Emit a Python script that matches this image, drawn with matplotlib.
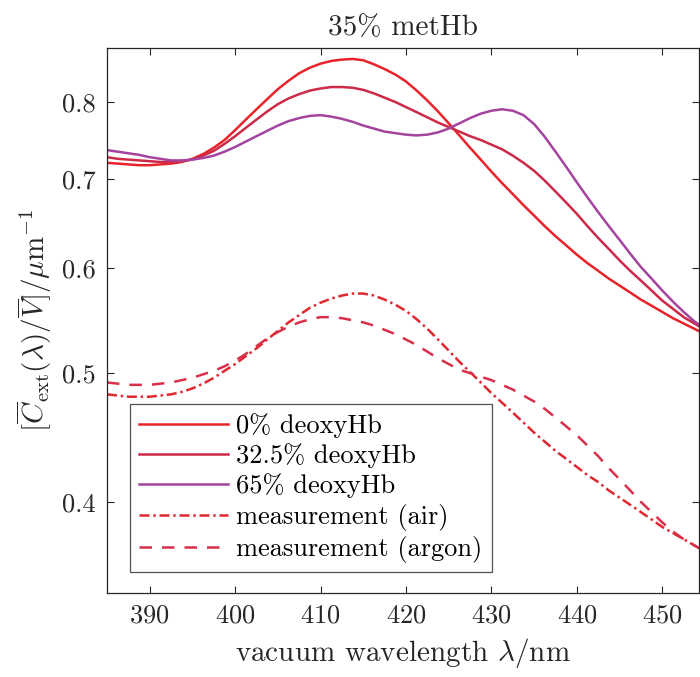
import numpy as np
import matplotlib
matplotlib.use("Agg")
import matplotlib.pyplot as plt
from matplotlib.ticker import FixedLocator, FixedFormatter, NullLocator

plt.rcParams["font.family"] = "serif"
plt.rcParams["font.serif"] = ["cmr10", "DejaVu Serif"]
plt.rcParams["mathtext.fontset"] = "cm"
plt.rcParams["axes.formatter.use_mathtext"] = True
plt.rcParams["axes.unicode_minus"] = False

# wavelength grid (nm), 1.25 nm steps
wavelength = [385.0, 386.25, 387.5, 388.75, 390.0, 391.25, 392.5, 393.75, 395.0, 396.25,
              397.5, 398.75, 400.0, 401.25, 402.5, 403.75, 405.0, 406.25, 407.5, 408.75,
              410.0, 411.25, 412.5, 413.75, 415.0, 416.25, 417.5, 418.75, 420.0, 421.25,
              422.5, 423.75, 425.0, 426.25, 427.5, 428.75, 430.0, 431.25, 432.5, 433.75,
              435.0, 436.25, 437.5, 438.75, 440.0, 441.25, 442.5, 443.75, 445.0, 446.25,
              447.5, 448.75, 450.0, 451.25, 452.5, 453.75, 455.0]

deoxy_0 = [0.720, 0.719, 0.718, 0.717, 0.717, 0.718, 0.719, 0.721, 0.725, 0.731,
           0.739, 0.749, 0.762, 0.776, 0.790, 0.804, 0.818, 0.830, 0.841, 0.849,
           0.855, 0.859, 0.861, 0.862, 0.860, 0.854, 0.847, 0.839, 0.829, 0.816,
           0.802, 0.787, 0.771, 0.755, 0.739, 0.724, 0.709, 0.695, 0.682, 0.669,
           0.657, 0.645, 0.634, 0.624, 0.614, 0.605, 0.597, 0.589, 0.582, 0.575,
           0.568, 0.562, 0.556, 0.550, 0.545, 0.540, 0.535]

deoxy_325 = [0.727, 0.725, 0.724, 0.723, 0.722, 0.721, 0.721, 0.722, 0.724, 0.729,
             0.735, 0.744, 0.754, 0.765, 0.776, 0.787, 0.797, 0.805, 0.811, 0.816,
             0.819, 0.821, 0.821, 0.820, 0.817, 0.812, 0.806, 0.800, 0.793, 0.786,
             0.779, 0.772, 0.766, 0.760, 0.754, 0.749, 0.743, 0.737, 0.729, 0.720,
             0.710, 0.698, 0.685, 0.672, 0.659, 0.645, 0.632, 0.620, 0.608, 0.597,
             0.587, 0.577, 0.567, 0.559, 0.551, 0.545, 0.539]

deoxy_65 = [0.736, 0.734, 0.732, 0.730, 0.727, 0.725, 0.723, 0.723, 0.724, 0.726,
            0.729, 0.734, 0.740, 0.747, 0.754, 0.761, 0.768, 0.774, 0.778, 0.781,
            0.782, 0.780, 0.777, 0.773, 0.768, 0.764, 0.760, 0.758, 0.756, 0.755,
            0.756, 0.759, 0.764, 0.771, 0.778, 0.784, 0.788, 0.790, 0.788, 0.782,
            0.770, 0.753, 0.734, 0.715, 0.696, 0.678, 0.661, 0.645, 0.630, 0.615,
            0.601, 0.589, 0.577, 0.566, 0.556, 0.547, 0.540]

meas_air = [0.482, 0.481, 0.480, 0.480, 0.480, 0.481, 0.482, 0.484, 0.487, 0.491,
            0.496, 0.502, 0.508, 0.515, 0.522, 0.530, 0.538, 0.546, 0.553, 0.560,
            0.565, 0.569, 0.572, 0.574, 0.574, 0.572, 0.568, 0.563, 0.557, 0.549,
            0.540, 0.530, 0.520, 0.510, 0.501, 0.492, 0.483, 0.475, 0.467, 0.459,
            0.451, 0.444, 0.437, 0.431, 0.425, 0.419, 0.414, 0.408, 0.403, 0.398,
            0.393, 0.388, 0.383, 0.379, 0.375, 0.371, 0.367]

meas_argon = [0.492, 0.491, 0.490, 0.490, 0.490, 0.491, 0.492, 0.494, 0.496, 0.499,
              0.502, 0.506, 0.511, 0.517, 0.524, 0.531, 0.537, 0.542, 0.546, 0.549,
              0.551, 0.551, 0.550, 0.548, 0.546, 0.543, 0.539, 0.535, 0.530, 0.525,
              0.519, 0.513, 0.508, 0.503, 0.500, 0.497, 0.494, 0.490, 0.486, 0.481,
              0.476, 0.470, 0.463, 0.456, 0.449, 0.441, 0.433, 0.424, 0.416, 0.408,
              0.400, 0.393, 0.386, 0.380, 0.375, 0.371, 0.367]

x_ticks = [390, 400, 410, 420, 430, 440, 450]
y_ticks = [0.4, 0.5, 0.6, 0.7, 0.8]
y_tick_labels = ["0.4", "0.5", "0.6", "0.7", "0.8"]

fig = plt.figure(figsize=(7.0, 6.77), dpi=100)
ax = fig.add_axes([0.1529, 0.1241, 0.8457, 0.805])

lw = 1.8
ax.plot(wavelength, deoxy_0, color="#e8242a", lw=lw, label="0% deoxyHb")
ax.plot(wavelength, deoxy_325, color="#cc2a48", lw=lw, label="32.5% deoxyHb")
ax.plot(wavelength, deoxy_65, color="#a4449e", lw=lw, label="65% deoxyHb")
ax.plot(wavelength, meas_air, color="#e02830", lw=lw, ls=(0, (4, 1.5, 1, 1.5)),
        label="measurement (air)")
ax.plot(wavelength, meas_argon, color="#d8304a", lw=lw, ls=(0, (5, 4)),
        label="measurement (argon)")

ax.set_yscale("log")
ax.set_xlim(385, 454.3)
ax.set_ylim(0.3416, 0.8785)
ax.xaxis.set_major_locator(FixedLocator(x_ticks))
ax.yaxis.set_major_locator(FixedLocator(y_ticks))
ax.yaxis.set_major_formatter(FixedFormatter(y_tick_labels))
ax.yaxis.set_minor_locator(NullLocator())

ax.tick_params(axis="both", which="both", direction="in", top=True, right=True,
               length=5, width=0.8, color="#262626", labelsize=19, pad=8,
               labelcolor="#262626")
for sp in ax.spines.values():
    sp.set_color("#262626")
    sp.set_linewidth(0.9)

ax.set_title("35% metHb", fontsize=21, color="#262626", pad=9)
ax.set_xlabel(r"vacuum wavelength $\lambda/\mathrm{nm}$", fontsize=21, color="#262626",
              labelpad=6)
ax.set_ylabel(r"$[\overline{C}_{\mathrm{ext}}(\lambda)/\overline{V}]/\mu\mathrm{m}^{-1}$",
              fontsize=21, color="#262626", labelpad=6)

leg = ax.legend(loc="lower left", bbox_to_anchor=(0.038, 0.038), fontsize=19,
                frameon=True, fancybox=False, edgecolor="#262626",
                handlelength=3.4, handletextpad=0.3, labelspacing=0.2,
                borderpad=0.35, borderaxespad=0.0)
leg.get_frame().set_linewidth(0.9)

fig.savefig("out.png", dpi=100)
